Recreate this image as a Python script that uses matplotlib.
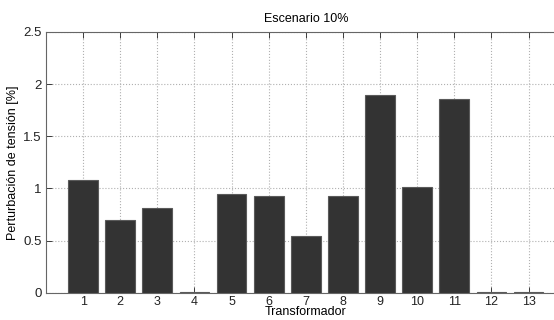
import matplotlib.pyplot as plt

plt.rcParams['font.family'] = ['Liberation Sans', 'DejaVu Sans']

# Datos
transformadores = list(range(1, 14))
perturbacion = [1.08, 0.70, 0.815, 0.006, 0.944, 0.929, 0.542, 0.925,
                1.892, 1.014, 1.860, 0.006, 0.006]
yticks = [0, 0.5, 1, 1.5, 2, 2.5]
ytick_labels = ['0', '0.5', '1', '1.5', '2', '2.5']

fig = plt.figure(figsize=(5.54, 3.2), dpi=100)
ax = fig.add_axes([0.083, 0.085, 0.938, 0.815])

ax.bar(transformadores, perturbacion, width=0.8, color='#333333',
       edgecolor='#5a5a5a', linewidth=0.8, zorder=3)

ax.set_xlim(0, 14)
ax.set_ylim(0, 2.5)
ax.set_xticks(transformadores)
ax.set_yticks(yticks)
ax.set_yticklabels(ytick_labels)
ax.tick_params(direction='in', length=4, labelsize=9.5, colors='#222222',
               top=True, right=True, pad=3, width=0.6)
ax.tick_params(axis='x', pad=2, labelsize=9)

ax.grid(True, linestyle=':', color='#b0b0b0', linewidth=0.8, zorder=0)
for s in ax.spines.values():
    s.set_color('#666666')
    s.set_linewidth(0.8)

ax.set_title('Escenario 10%', fontsize=9, pad=7)
ax.set_xlabel('Transformador', fontsize=9, labelpad=-1)
ax.set_ylabel('Perturbación de tensión [%]', fontsize=9, labelpad=3)

fig.savefig('out.png', dpi=100)
